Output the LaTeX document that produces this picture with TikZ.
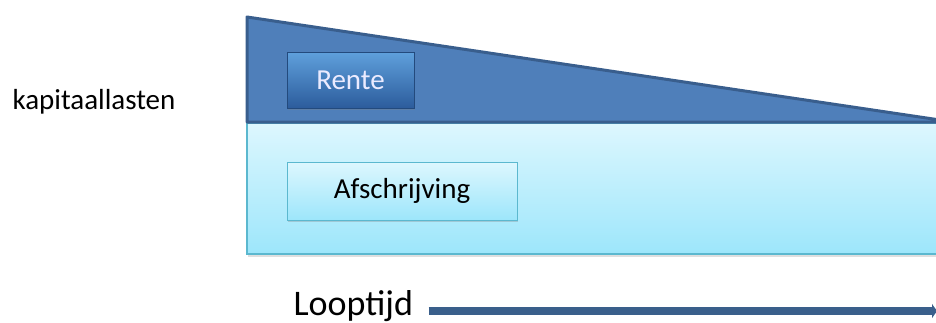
\documentclass[tikz,border=0pt]{standalone}
\usepackage{fontspec}
\setmainfont{Carlito}
\usetikzlibrary{shadows,arrows.meta}
\definecolor{darkfill}{HTML}{4F7FBA}
\definecolor{darkline}{HTML}{395E8D}
\definecolor{lighttop}{HTML}{DDF7FE}
\definecolor{lightbot}{HTML}{9DE6FB}
\definecolor{lightline}{HTML}{5BB8CF}
\definecolor{btntop}{HTML}{5FA0DC}
\definecolor{btnbot}{HTML}{2C5C9C}
\definecolor{arrowcol}{HTML}{3A5F8B}
\tikzset{
  lightband/.style={draw=lightline, line width=1.5pt, top color=lighttop, bottom color=lightbot, drop shadow={shadow xshift=1pt, shadow yshift=-3pt, opacity=0.25}},
  darkband/.style={draw=darkline, line width=3pt, fill=darkfill, line join=round},
  btnbox/.style={draw=btnbot!80!black, line width=0.8pt, top color=btntop, bottom color=btnbot, text=white!92!blue, font=\fontsize{29}{31}\selectfont, minimum width=127pt, minimum height=56pt, drop shadow={shadow xshift=1pt, shadow yshift=-2pt, opacity=0.3}},
  lightbox/.style={draw=lightline, line width=1pt, top color=lighttop, bottom color=lightbot, text=black, font=\fontsize{29}{31}\selectfont, minimum width=230pt, minimum height=58pt, drop shadow={shadow xshift=1pt, shadow yshift=-2pt, opacity=0.3}},
  label/.style={font=\fontsize{29}{31}\selectfont, text=black},
  timelabel/.style={font=\fontsize{36}{38}\selectfont, text=black}
}
\begin{document}
\begin{tikzpicture}[x=1pt,y=-1pt]
\useasboundingbox (0,0) rectangle (936,322);
% light band
\path[lightband] (247,123) rectangle (940,254);
% dark wedge
\draw[darkband] (247,17) -- (940,120) -- (940,122) -- (247,122) -- cycle;
\node[btnbox] (rente) at (350.5,80) {Rente};
\node[lightbox] (afschr) at (402,191) {Afschrijving};
\node[label, anchor=base] (kap) at (94,109) {kapitaallasten};
\node[timelabel, anchor=base west] (loop) at (290,315) {Looptijd};
\coordinate (end) at (937,311);
\draw[arrowcol, line width=8pt, -{Triangle[length=5pt,width=14pt]}] (loop.east |- end) ++(12,0) coordinate (start) -- (end);
\end{tikzpicture}
\end{document}
